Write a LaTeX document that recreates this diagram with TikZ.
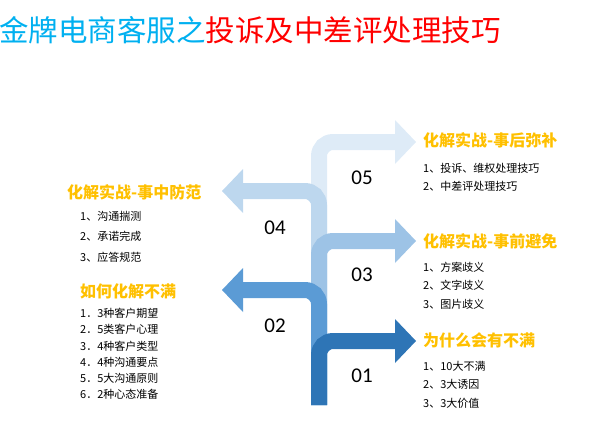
\documentclass[tikz,border=0pt]{standalone}
\usepackage{fontspec}
\newfontfamily\cjk{Noto Sans CJK SC}
\newfontfamily\num{Carlito}
\begin{document}
\begin{tikzpicture}[x=1pt,y=-1pt,
  band/.style={line width=16pt,rounded corners=14pt},
  hd/.style={font=\cjk\bfseries\fontsize{16}{18}\selectfont,text=orange1,anchor=west,inner sep=0},
  it/.style={font=\cjk\fontsize{11}{12}\selectfont,anchor=west,inner sep=0},
  nm/.style={font=\num\fontsize{21}{24}\selectfont,inner sep=0}]
\definecolor{c1}{HTML}{2E75B6}\definecolor{c2}{HTML}{5B9BD5}
\definecolor{c3}{HTML}{9DC3E6}\definecolor{c4}{HTML}{BDD7EE}
\definecolor{c5}{HTML}{DEEBF7}\definecolor{orange1}{HTML}{FFC000}
\definecolor{cyan1}{HTML}{00B0F0}
\useasboundingbox (0,0) rectangle (615,447);
% arrows back to front
\foreach \c/\y/\d in {c5/142/1,c4/191/-1,c3/241/1,c2/290/-1,c1/341/1}{
  \draw[band,\c] (319,405) -- (319,\y) -- ({319+\d*76},\y);
  \fill[\c] ({319+\d*76},\y-22) -- ({319+\d*97},\y) -- ({319+\d*76},\y+22) -- cycle;
}
\node[anchor=west,inner sep=0,font=\cjk\fontsize{29.5}{32}\selectfont] (title) at (-1,30) {\textcolor{cyan1}{金牌电商客服之}\textcolor{red}{投诉及中差评处理技巧}};
\node[nm] (n5) at (362,178) {05};
\node[nm] (n4) at (275,228) {04};
\node[nm] (n3) at (362,275) {03};
\node[nm] (n2) at (275,326) {02};
\node[nm] (n1) at (362,376) {01};
\node[hd] (h4) at (67,192) {化解实战-事中防范};
\node[it] (a1) at (80,216) {1、沟通揣测};
\node[it] (a2) at (80,236) {2、承诺完成};
\node[it] (a3) at (80,257) {3、应答规范};
\node[hd] (h2) at (80,291) {如何化解不满};
\node[it] (b1) at (80,313) {1．3种客户期望};
\node[it] (b2) at (80,329) {2．5类客户心理};
\node[it] (b3) at (80,346) {3．4种客户类型};
\node[it] (b4) at (80,362) {4．4种沟通要点};
\node[it] (b5) at (80,378) {5．5大沟通原则};
\node[it] (b6) at (80,394) {6．2种心态准备};
\node[hd] (h5) at (423,140) {化解实战-事后弥补};
\node[it] (c1t) at (423,168) {1、投诉、维权处理技巧};
\node[it] (c2t) at (423,186) {2、中差评处理技巧};
\node[hd] (h3) at (423,241) {化解实战-事前避免};
\node[it] (d1) at (423,267) {1、方案歧义};
\node[it] (d2) at (423,285) {2、文字歧义};
\node[it] (d3) at (423,304) {3、图片歧义};
\node[hd] (h1) at (423,340) {为什么会有不满};
\node[it] (e1) at (423,366) {1、10大不满};
\node[it] (e2) at (423,384) {2、3大诱因};
\node[it] (e3) at (423,403) {3、3大价值};
\end{tikzpicture}
\end{document}
